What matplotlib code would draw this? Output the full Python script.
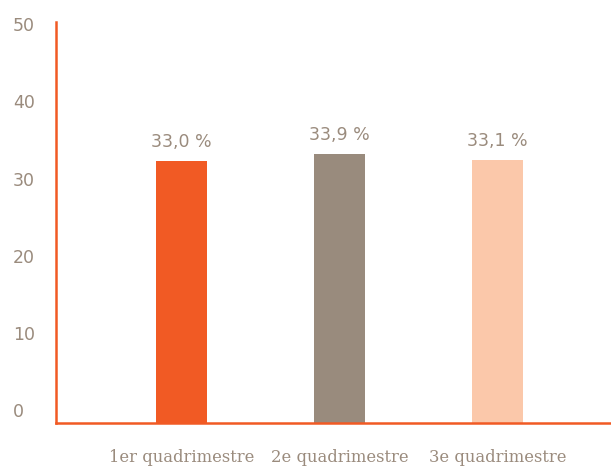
import numpy as np
import matplotlib.pyplot as plt

# données
categories = ['1er quadrimestre', '2e quadrimestre', '3e quadrimestre']
values = [33.0, 33.9, 33.1]
value_labels = ['33,0 %', '33,9 %', '33,1 %']
bar_colors = ['#F15A24', '#998B7D', '#FBC8AA']
ytick_labels = ['0', '10', '20', '30', '40', '50']

axis_color = '#F15A24'
text_color = '#9A8B7D'

fig = plt.figure(figsize=(6.11, 4.67), dpi=100)
ax = fig.add_axes([56 / 611, 1 - 423 / 467, 1 - 56 / 611, (423 - 22) / 467])

x = np.arange(len(categories))
bars = ax.bar(x, values, width=0.32, color=bar_colors, zorder=2)

for xi, v, lab in zip(x, values, value_labels):
    ax.annotate(lab, (xi, v), xytext=(0, 10), textcoords='offset points',
                ha='center', va='baseline', fontsize=12.5, color=text_color)

ax.set_xlim(-0.794, 2.719)
ax.set_ylim(0, 50.5)

# étiquettes de l'axe y (légèrement décalées comme sur l'original)
ax.set_yticks(np.linspace(1.6, 50.25, len(ytick_labels)))
ax.set_yticklabels(ytick_labels, fontsize=12.5, color=text_color)
for t in ax.get_yticklabels():
    t.set_horizontalalignment('left')
ax.tick_params(axis='y', length=0, pad=31)

ax.set_xticks(x)
ax.set_xticklabels(categories, fontsize=11.8, color=text_color, family='DejaVu Serif')
ax.tick_params(axis='x', length=0, pad=19)

for s in ['top', 'right']:
    ax.spines[s].set_visible(False)
for s in ['left', 'bottom']:
    ax.spines[s].set_color(axis_color)
    ax.spines[s].set_linewidth(1.8)

fig.savefig('out.png', dpi=100)
